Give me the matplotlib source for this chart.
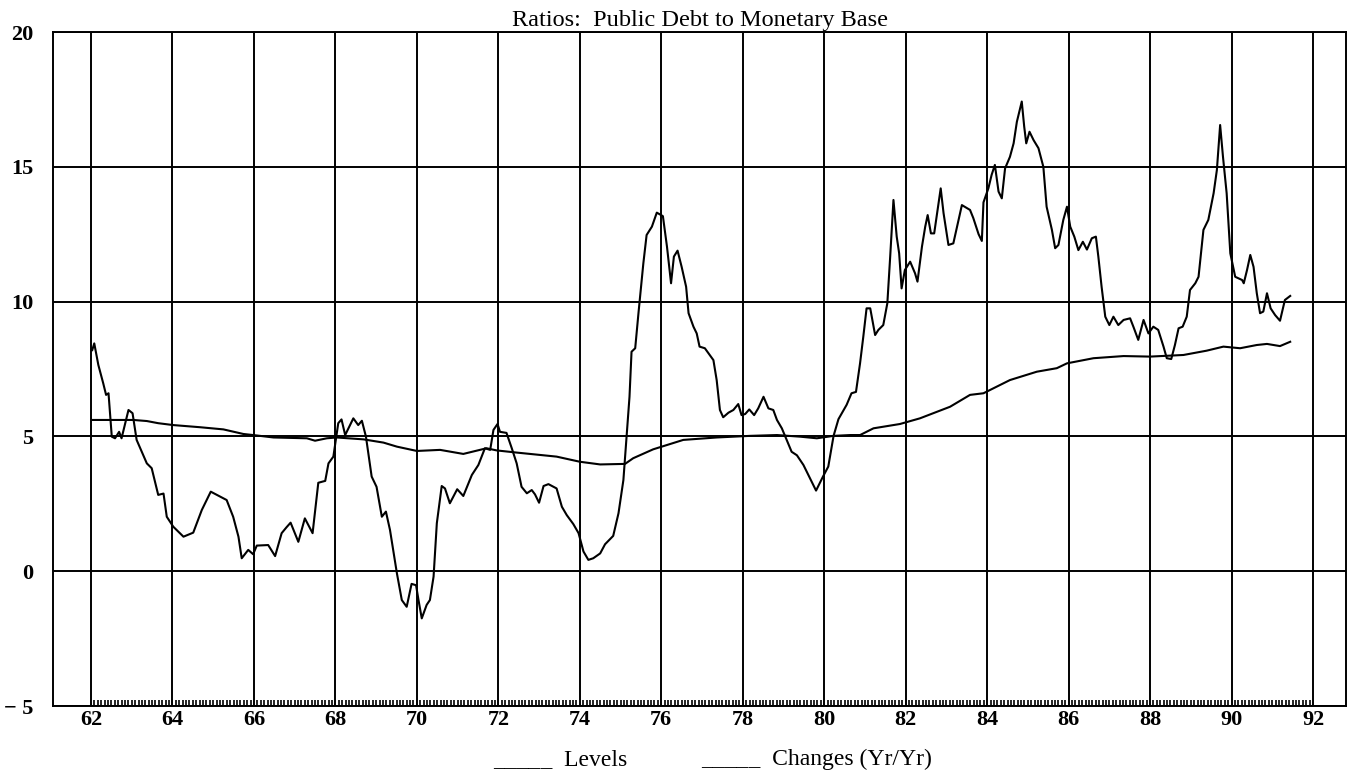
import numpy as np
import matplotlib
matplotlib.use('Agg')
import matplotlib.pyplot as plt
import matplotlib.ticker as ticker

# ──────────────────────────────────────────────────────────────
# Data (year, ratio)
# ──────────────────────────────────────────────────────────────
changes_x = [62.03, 62.08, 62.18, 62.30, 62.37, 62.43, 62.51, 62.59, 62.69, 62.75,
             62.92, 63.02, 63.12, 63.37, 63.49, 63.65, 63.78, 63.86, 64.02, 64.27,
             64.51, 64.72, 64.94, 65.33, 65.49, 65.62, 65.70, 65.86, 65.98, 66.07,
             66.35, 66.52, 66.68, 66.80, 66.90, 67.09, 67.25, 67.44, 67.58, 67.75,
             67.83, 67.95, 68.07, 68.15, 68.24, 68.44, 68.56, 68.65, 68.75, 68.89,
             69.01, 69.14, 69.24, 69.34, 69.51, 69.63, 69.75, 69.87, 69.98, 70.04,
             70.12, 70.24, 70.32, 70.41, 70.49, 70.61, 70.69, 70.81, 70.99, 71.14,
             71.35, 71.51, 71.67, 71.80, 71.88, 71.98, 72.04, 72.20, 72.33, 72.45,
             72.57, 72.70, 72.82, 72.90, 73.00, 73.11, 73.23, 73.43, 73.56, 73.68,
             73.84, 73.97, 74.09, 74.21, 74.33, 74.50, 74.62, 74.82, 74.95, 75.07,
             75.15, 75.22, 75.27, 75.36, 75.44, 75.56, 75.64, 75.77, 75.89, 76.04,
             76.14, 76.24, 76.31, 76.40, 76.50, 76.61, 76.67, 76.79, 76.87, 76.94,
             77.07, 77.28, 77.36, 77.44, 77.52, 77.65, 77.77, 77.89, 77.97, 78.06,
             78.16, 78.28, 78.38, 78.51, 78.63, 78.75, 78.84, 78.96, 79.08, 79.20,
             79.33, 79.49, 79.65, 79.80, 79.97, 80.10, 80.23, 80.35, 80.55, 80.67,
             80.78, 80.88, 80.96, 81.04, 81.13, 81.25, 81.33, 81.45, 81.55, 81.62,
             81.70, 81.78, 81.84, 81.90, 81.98, 82.11, 82.23, 82.29, 82.40, 82.48,
             82.54, 82.62, 82.70, 82.86, 82.93, 83.05, 83.17, 83.38, 83.58, 83.66,
             83.79, 83.87, 83.91, 84.03, 84.11, 84.19, 84.28, 84.36, 84.44, 84.56,
             84.65, 84.73, 84.85, 84.91, 84.96, 85.04, 85.14, 85.26, 85.38, 85.46,
             85.59, 85.67, 85.75, 85.87, 85.96, 86.04, 86.14, 86.24, 86.35, 86.45,
             86.57, 86.67, 86.73, 86.81, 86.90, 87.00, 87.10, 87.22, 87.35, 87.51,
             87.59, 87.71, 87.84, 87.96, 88.08, 88.20, 88.33, 88.41, 88.52, 88.61,
             88.70, 88.80, 88.90, 88.98, 89.11, 89.19, 89.31, 89.43, 89.56, 89.64,
             89.72, 89.79, 89.88, 89.97, 90.09, 90.26, 90.30, 90.38, 90.46, 90.54,
             90.62, 90.70, 90.78, 90.87, 90.96, 91.07, 91.19, 91.31, 91.44]
changes_y = [8.20, 8.45, 7.65, 6.97, 6.54, 6.60, 4.99, 4.93, 5.17, 4.93,
             5.98, 5.86, 4.87, 4.00, 3.82, 2.83, 2.88, 2.02, 1.65, 1.28,
             1.43, 2.27, 2.95, 2.64, 2.02, 1.28, 0.48, 0.79, 0.63, 0.95,
             0.97, 0.56, 1.41, 1.63, 1.80, 1.09, 1.96, 1.41, 3.28, 3.35,
             4.00, 4.25, 5.49, 5.63, 5.05, 5.67, 5.42, 5.58, 4.99, 3.51,
             3.13, 2.02, 2.21, 1.53, -0.08, -1.07, -1.32, -0.47, -0.52, -1.07,
             -1.75, -1.25, -1.07, -0.20, 1.78, 3.16, 3.07, 2.52, 3.04, 2.79,
             3.57, 3.94, 4.56, 4.50, 5.24, 5.46, 5.17, 5.13, 4.56, 4.00,
             3.13, 2.89, 3.01, 2.85, 2.54, 3.16, 3.23, 3.07, 2.39, 2.08,
             1.75, 1.41, 0.73, 0.42, 0.48, 0.66, 1.00, 1.31, 2.15, 3.38,
             5.00, 6.47, 8.14, 8.27, 9.57, 11.42, 12.47, 12.78, 13.30, 13.17,
             12.04, 10.68, 11.67, 11.89, 11.29, 10.55, 9.57, 9.07, 8.82, 8.33,
             8.27, 7.83, 7.09, 5.98, 5.71, 5.88, 5.98, 6.20, 5.79, 5.83,
             6.00, 5.79, 6.04, 6.47, 6.04, 5.98, 5.61, 5.30, 4.87, 4.43,
             4.30, 3.94, 3.45, 2.99, 3.51, 3.88, 5.02, 5.64, 6.17, 6.60,
             6.65, 7.71, 8.70, 9.75, 9.75, 8.76, 8.95, 9.13, 9.94, 11.67,
             13.77, 12.41, 11.79, 10.49, 11.17, 11.48, 11.05, 10.74, 12.04, 12.78,
             13.21, 12.53, 12.53, 14.20, 13.28, 12.10, 12.16, 13.58, 13.40, 13.10,
             12.50, 12.25, 13.68, 14.20, 14.70, 15.07, 14.08, 13.83, 14.94, 15.37,
             15.87, 16.67, 17.42, 16.49, 15.87, 16.30, 15.99, 15.69, 15.00, 13.52,
             12.66, 11.98, 12.10, 13.03, 13.52, 12.78, 12.41, 11.91, 12.22, 11.93,
             12.35, 12.41, 11.67, 10.55, 9.44, 9.13, 9.44, 9.13, 9.32, 9.38,
             9.07, 8.58, 9.32, 8.82, 9.07, 8.95, 8.33, 7.90, 7.87, 8.39,
             9.01, 9.07, 9.44, 10.43, 10.68, 10.92, 12.66, 13.03, 14.02, 14.88,
             16.55, 15.37, 14.02, 11.79, 10.92, 10.80, 10.68, 11.17, 11.73, 11.29,
             10.31, 9.57, 9.63, 10.31, 9.75, 9.50, 9.29, 10.06, 10.21]

levels_x = [62.04, 63.04, 63.37, 63.65, 64.02, 64.68, 65.25, 65.74, 65.98, 66.48,
            67.30, 67.50, 67.79, 68.03, 68.69, 69.18, 69.51, 70.00, 70.57, 71.14,
            71.71, 71.96, 72.45, 73.43, 74.00, 74.50, 75.11, 75.31, 75.80, 76.54,
            77.36, 78.18, 78.84, 79.41, 79.82, 80.23, 80.64, 80.88, 81.21, 81.86,
            82.35, 83.09, 83.58, 83.91, 84.56, 85.22, 85.71, 85.96, 86.61, 87.35,
            88.00, 88.82, 89.39, 89.80, 90.21, 90.62, 90.87, 91.19, 91.44]
levels_y = [5.61, 5.61, 5.57, 5.49, 5.42, 5.34, 5.26, 5.09, 5.05, 4.96,
            4.93, 4.84, 4.93, 4.96, 4.89, 4.77, 4.62, 4.46, 4.50, 4.35,
            4.56, 4.48, 4.40, 4.25, 4.06, 3.96, 3.98, 4.19, 4.52, 4.87,
            4.96, 5.02, 5.05, 4.99, 4.93, 5.02, 5.05, 5.05, 5.30, 5.46,
            5.67, 6.10, 6.54, 6.60, 7.09, 7.40, 7.53, 7.71, 7.90, 7.98,
            7.96, 8.02, 8.18, 8.33, 8.27, 8.39, 8.43, 8.35, 8.51]

x_ticks = list(range(62, 93, 2))
y_ticks = [-5, 0, 5, 10, 15, 20]
y_labels = ['\u2212 5', '0', '5', '10', '15', '20']

serif = ['Liberation Serif', 'DejaVu Serif']

fig = plt.figure(figsize=(13.48, 7.79), dpi=100)
ax = fig.add_axes([53 / 1348, 73 / 779, 1293 / 1348, 674 / 779])

ax.plot(levels_x, levels_y, color='black', linewidth=1.5)
ax.plot(changes_x, changes_y, color='black', linewidth=1.5)

ax.set_xlim(61.067, 92.81)
ax.set_ylim(-5, 20)

ax.xaxis.set_major_locator(ticker.FixedLocator(x_ticks))
ax.xaxis.set_minor_locator(ticker.FixedLocator(np.arange(62, 92.001, 1 / 12)))
ax.set_xticklabels([str(t) for t in x_ticks], fontfamily=serif,
                   fontweight='bold', fontsize=16)
ax.set_yticks(y_ticks)
ax.set_yticklabels(y_labels, fontfamily=serif, fontweight='bold', fontsize=16)

ax.tick_params(axis='x', which='major', length=0, pad=3)
ax.tick_params(axis='x', which='minor', direction='in', length=4, width=1.2)
ax.tick_params(axis='y', length=0, pad=14)

ax.grid(True, which='major', color='black', linewidth=1.4)
for s in ax.spines.values():
    s.set_linewidth(1.4)
    s.set_color('black')

fig.text(0.519, 0.966, 'Ratios:  Public Debt to Monetary Base', ha='center',
         va='baseline', fontfamily=serif, fontsize=17.5)

fig.text(0.366, 0.012, '_____  Levels', ha='left', va='bottom',
         fontfamily=serif, fontsize=17)
fig.text(0.52, 0.012, '_____  Changes (Yr/Yr)', ha='left', va='bottom',
         fontfamily=serif, fontsize=17)

plt.savefig('out.png', dpi=100)
